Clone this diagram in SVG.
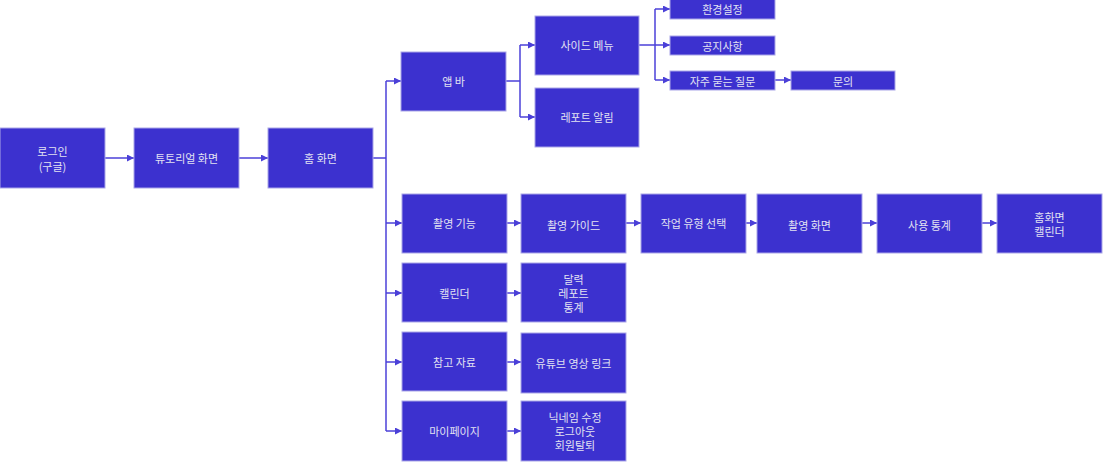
<svg xmlns="http://www.w3.org/2000/svg" width="1109" height="466" viewBox="0 0 1109 466">
<style>
.n rect{fill:#3c31cf;stroke:#aaa6e8;stroke-width:1}
.n text{fill:#e2e2f2;font-family:"Noto Sans CJK KR","Noto Sans",sans-serif;font-size:11px;text-anchor:middle;dominant-baseline:central}
.c path{fill:none;stroke:#4b40d8;stroke-width:1.5}
</style>
<defs>
<marker id="a" viewBox="0 0 10 10" refX="10" refY="5" markerWidth="7" markerHeight="7" orient="auto" markerUnits="userSpaceOnUse">
<path d="M0,0L10,5L0,10z" fill="#4b40d8"/>
</marker>
</defs>
<rect width="1109" height="466" fill="#fff"/>
<g class="c">
<path d="M105,158H134" marker-end="url(#a)"/>
<path d="M239,158H268" marker-end="url(#a)"/>
<path d="M373,158H386"/>
<path d="M386,81V431"/>
<path d="M386,81H401" marker-end="url(#a)"/>
<path d="M386,223H402" marker-end="url(#a)"/>
<path d="M386,293H402" marker-end="url(#a)"/>
<path d="M386,362H402" marker-end="url(#a)"/>
<path d="M386,431H402" marker-end="url(#a)"/>
<path d="M506,81H520"/>
<path d="M520,45V117"/>
<path d="M520,45H535" marker-end="url(#a)"/>
<path d="M520,117H535" marker-end="url(#a)"/>
<path d="M639,45H655"/>
<path d="M655,9V80"/>
<path d="M655,9H670" marker-end="url(#a)"/>
<path d="M655,45H670" marker-end="url(#a)"/>
<path d="M655,80H670" marker-end="url(#a)"/>
<path d="M775,80H791" marker-end="url(#a)"/>
<path d="M507,223H521" marker-end="url(#a)"/>
<path d="M626,223H641" marker-end="url(#a)"/>
<path d="M746,223H757" marker-end="url(#a)"/>
<path d="M862,223H877" marker-end="url(#a)"/>
<path d="M982,223H997" marker-end="url(#a)"/>
<path d="M507,293H521" marker-end="url(#a)"/>
<path d="M507,362H521" marker-end="url(#a)"/>
<path d="M507,431H521" marker-end="url(#a)"/>
</g>
<g id="login" class="n"><rect x="0" y="128" width="105" height="60"/><text x="52.5" y="151">로그인</text><text x="52.5" y="166">(구글)</text></g>
<g id="tutorial" class="n"><rect x="134" y="128" width="105" height="60"/><text x="186.5" y="158">튜토리얼 화면</text></g>
<g id="home" class="n"><rect x="268" y="128" width="105" height="60"/><text x="320.5" y="158">홈 화면</text></g>
<g id="appbar" class="n"><rect x="401" y="52" width="105" height="59"/><text x="453.5" y="81">앱 바</text></g>
<g id="sidemenu" class="n"><rect x="535" y="16" width="104" height="59"/><text x="587" y="45">사이드 메뉴</text></g>
<g id="report" class="n"><rect x="535" y="88" width="104" height="59"/><text x="587" y="117">레포트 알림</text></g>
<g id="settings" class="n"><rect x="670" y="-1" width="105" height="20"/><text x="722.5" y="9">환경설정</text></g>
<g id="notice" class="n"><rect x="670" y="36" width="105" height="19"/><text x="722.5" y="45.5">공지사항</text></g>
<g id="faq" class="n"><rect x="670" y="71" width="105" height="19"/><text x="722.5" y="80.5">자주 묻는 질문</text></g>
<g id="inquiry" class="n"><rect x="791" y="71" width="104" height="19"/><text x="843" y="80.5">문의</text></g>
<g id="shoot" class="n"><rect x="402" y="194" width="105" height="59"/><text x="454.5" y="223">촬영 기능</text></g>
<g id="guide" class="n"><rect x="521" y="194" width="105" height="59"/><text x="573.5" y="225">촬영 가이드</text></g>
<g id="worktype" class="n"><rect x="641" y="194" width="105" height="59"/><text x="693.5" y="223">작업 유형 선택</text></g>
<g id="shootscreen" class="n"><rect x="757" y="194" width="105" height="59"/><text x="809.5" y="225">촬영 화면</text></g>
<g id="stats" class="n"><rect x="877" y="194" width="105" height="59"/><text x="929.5" y="225">사용 통계</text></g>
<g id="homecal" class="n"><rect x="997" y="194" width="105" height="59"/><text x="1049.5" y="217">홈화면</text><text x="1049.5" y="231">캘린더</text></g>
<g id="calendar" class="n"><rect x="402" y="263" width="105" height="59"/><text x="454.5" y="293">캘린더</text></g>
<g id="calsub" class="n"><rect x="521" y="263" width="105" height="59"/><text x="573.5" y="279">달력</text><text x="573.5" y="293">레포트</text><text x="573.5" y="307">통계</text></g>
<g id="ref" class="n"><rect x="402" y="332" width="105" height="59"/><text x="454.5" y="362">참고 자료</text></g>
<g id="youtube" class="n"><rect x="521" y="333" width="105" height="60"/><text x="573.5" y="363">유튜브 영상 링크</text></g>
<g id="mypage" class="n"><rect x="402" y="401" width="105" height="60"/><text x="454.5" y="431">마이페이지</text></g>
<g id="mysub" class="n"><rect x="521" y="401" width="105" height="60"/><text x="575" y="417">닉네임 수정</text><text x="575" y="431">로그아웃</text><text x="575" y="445">회원탈퇴</text></g>
</svg>
